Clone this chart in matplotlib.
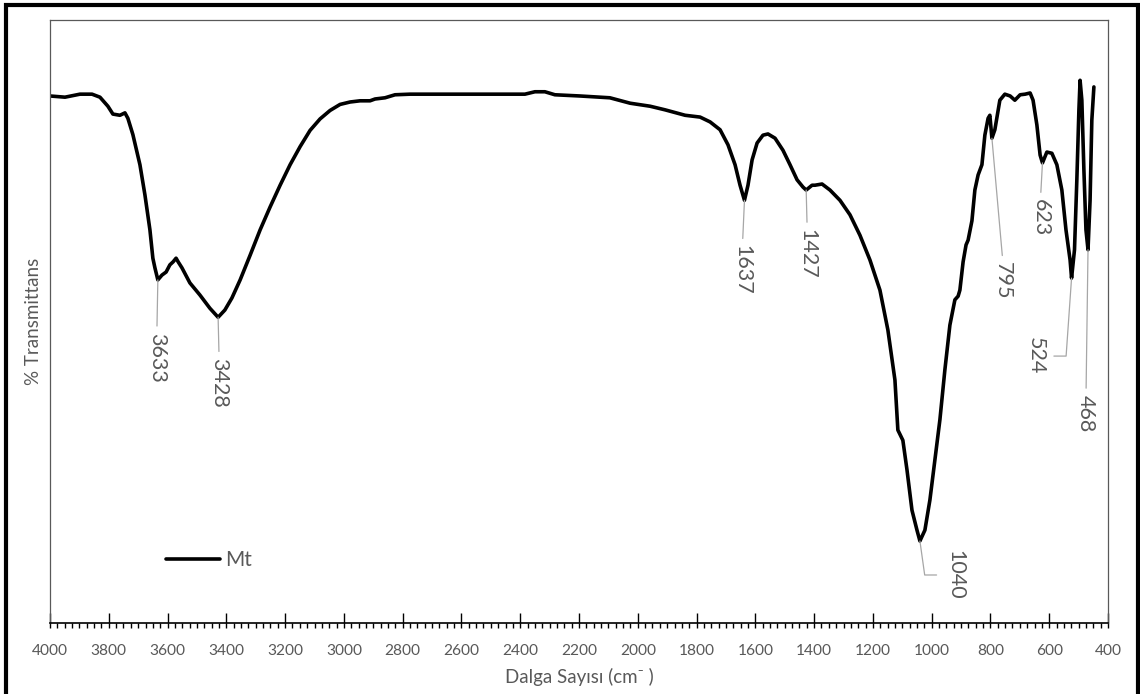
import matplotlib.pyplot as plt
from matplotlib.ticker import MultipleLocator
from matplotlib.patches import Rectangle

# FTIR spectrum of Mt (wavenumber in cm-1, transmittance in %)
wavenumber = [4000, 3949, 3898, 3857, 3830, 3803, 3786, 3762, 3745, 3735, 3718, 3694,
              3677, 3660, 3650, 3643, 3633, 3619, 3605, 3592, 3581, 3571, 3564, 3551,
              3524, 3490, 3456, 3428, 3405, 3381, 3353, 3319, 3285, 3251, 3217, 3183,
              3149, 3115, 3081, 3047, 3013, 2979, 2945, 2911, 2894, 2860, 2826, 2775,
              2673, 2537, 2384, 2350, 2316, 2282, 2197, 2095, 2026, 1958, 1907, 1839,
              1788, 1754, 1720, 1693, 1669, 1652, 1637, 1625, 1611, 1594, 1574, 1557,
              1533, 1506, 1482, 1458, 1438, 1427, 1407, 1397, 1373, 1346, 1312, 1278,
              1244, 1210, 1176, 1149, 1125, 1115, 1098, 1084, 1067, 1050, 1040, 1023,
              1006, 989, 972, 955, 938, 921, 910, 904, 893, 883, 876, 863, 853, 842,
              829, 819, 808, 802, 795, 785, 768, 751, 733, 717, 699, 682, 665, 655,
              642, 631, 623, 608, 591, 574, 557, 543, 529, 524, 514, 506, 499, 495,
              489, 482, 475, 468, 461, 455, 448]
transmittance = [87.4, 87.2, 87.7, 87.7, 87.2, 85.7, 84.4, 84.2, 84.6, 83.7, 81.0, 76.0,
                 71.0, 65.2, 60.5, 58.9, 56.9, 57.7, 58.2, 59.4, 59.9, 60.5, 59.9, 58.9,
                 56.4, 54.4, 52.2, 50.7, 51.9, 53.9, 56.9, 61.0, 65.2, 69.0, 72.6, 76.0,
                 79.0, 81.7, 83.6, 85.0, 86.0, 86.4, 86.6, 86.6, 86.9, 87.1, 87.6, 87.7,
                 87.7, 87.7, 87.7, 88.1, 88.1, 87.6, 87.4, 87.1, 86.2, 85.7, 85.1, 84.2,
                 83.9, 83.1, 81.8, 79.3, 76.0, 72.6, 70.1, 72.6, 76.8, 79.6, 80.9, 81.1,
                 80.4, 78.4, 76.0, 73.5, 72.3, 71.8, 72.6, 72.6, 72.8, 71.8, 70.1, 67.7,
                 64.3, 60.2, 55.2, 48.6, 40.3, 32.0, 30.3, 25.4, 18.7, 15.4, 13.6, 15.4,
                 20.4, 27.0, 33.7, 42.0, 49.4, 53.6, 54.2, 55.2, 59.9, 62.7, 63.5, 66.7,
                 71.8, 74.3, 76.0, 80.9, 83.7, 84.2, 80.4, 81.8, 86.7, 87.7, 87.4, 86.7,
                 87.6, 87.7, 87.9, 86.7, 82.6, 77.6, 76.3, 78.1, 77.9, 76.0, 71.8, 65.2,
                 60.2, 57.2, 61.9, 73.5, 85.1, 90.0, 86.7, 75.1, 65.2, 61.9, 70.1, 83.4,
                 88.9]

# labelled band positions and label offsets (pixels) from the band minimum
peak_labels = [3633, 3428, 1637, 1427, 1040, 795, 623, 524, 468]
label_offsets = [(-1, -78), (1, -66), (-2, -70), (1, -64), (35, -34),
                 (11, -143), (-2, -55), (-36, -78), (-2, -164)]

FONT = "Lato"
GRAY = "#595959"

fig = plt.figure(figsize=(11.4, 6.94), dpi=100)
ax = fig.add_axes([50 / 1140, 71 / 694, 1058 / 1140, 603 / 694])

ax.plot(wavenumber, transmittance, color="black", lw=2.6,
        solid_joinstyle="round", solid_capstyle="round", label="Mt")

ax.set_xlim(4000, 400)
ax.set_ylim(0, 100)
ax.xaxis.set_major_locator(MultipleLocator(200))
ax.xaxis.set_minor_locator(MultipleLocator(25))
ax.xaxis.remove_overlapping_locs = False
ax.tick_params(axis="x", which="major", direction="in", length=7, width=1,
               color="black", pad=15, labelsize=11.2, labelcolor=GRAY)
ax.tick_params(axis="x", which="minor", direction="out", length=3.5, width=1,
               color="black")
ax.set_yticks([])
for lab in ax.get_xticklabels():
    lab.set_fontfamily(FONT)

for side in ["left", "top", "right"]:
    ax.spines[side].set_color("#595959")
    ax.spines[side].set_linewidth(0.9)
ax.spines["bottom"].set_color("black")
ax.spines["bottom"].set_linewidth(1.2)

ax.set_xlabel("Dalga Sayısı (cm\u207b )", fontsize=13.5, color=GRAY,
              family=FONT, labelpad=7)
ax.set_ylabel("% Transmittans", fontsize=13.5, color=GRAY, family=FONT,
              labelpad=6)

# band labels with leader lines
for wn, (dx, dy) in zip(peak_labels, label_offsets):
    i = wavenumber.index(wn)
    t = transmittance[i]
    if wn == 1040:
        arrow = dict(arrowstyle="-", color="#a6a6a6", lw=0.9, shrinkA=4,
                     shrinkB=0, relpos=(0, 0.5),
                     connectionstyle="angle,angleA=0,angleB=98,rad=0")
    elif wn == 524:
        arrow = dict(arrowstyle="-", color="#a6a6a6", lw=0.9, shrinkA=4,
                     shrinkB=0, relpos=(1, 0.5),
                     connectionstyle="angle,angleA=0,angleB=86,rad=0")
    else:
        arrow = dict(arrowstyle="-", color="#a6a6a6", lw=0.9, shrinkA=3,
                     shrinkB=0, relpos=(0.5, 1))
    ax.annotate(str(wn), xy=(wn, t), xytext=(dx, dy), textcoords="offset pixels",
                rotation=270, ha="center", va="center", fontsize=15.5,
                color=GRAY, family=FONT, arrowprops=arrow)

leg = ax.legend(loc="center left", bbox_to_anchor=(0.1095, 0.1045), frameon=False,
                handlelength=2.6, handletextpad=0.25, borderpad=0, borderaxespad=0,
                prop={"family": FONT, "size": 15})
for txt in leg.get_texts():
    txt.set_color(GRAY)

# thick outer frame
fig.add_artist(Rectangle((6 / 1140, -0.02), 1131.5 / 1140, 1.02 - 5 / 694,
                         transform=fig.transFigure, fill=False,
                         edgecolor="black", lw=3, clip_on=False))

fig.savefig("out.png", dpi=100)
